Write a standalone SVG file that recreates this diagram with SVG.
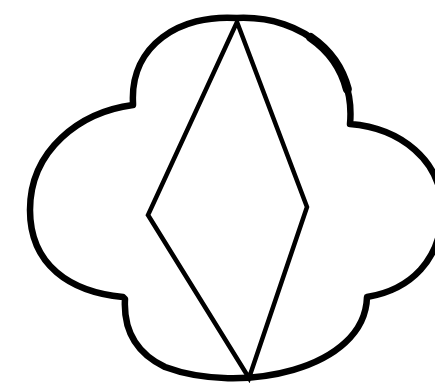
<svg xmlns="http://www.w3.org/2000/svg" width="435" height="389" viewBox="0 0 435 389">
<style>
.cloud{fill:none;stroke:#000;stroke-width:6.5;stroke-linejoin:round;stroke-linecap:round}
.dia{fill:none;stroke:#000;stroke-width:4.5;stroke-linejoin:miter;stroke-linecap:round}
</style>
<rect width="435" height="389" fill="#fff"/>
<g id="cloud">
<path class="cloud" d="M237,18 C180,14 130,45 133,103 L133,105 C80,112 30,150 30,210 C30,265 70,292 123,297 L125,299 C123,335 140,355 165,367 C240,395 365,370 367,297 C410,290 442,260 442,210 C442,160 400,128 350,124 C356,60 305,15 237,18 Z"/>
<path d="M350,124 C356,60 305,15 237,18" fill="none" stroke="#000" stroke-width="9" stroke-dasharray="65 400" stroke-dashoffset="-35" stroke-linecap="round"/>
</g>
<g id="diamond">
<path class="dia" d="M237,22 L307,207 L249,378 L148,215 Z"/>
</g>
</svg>
